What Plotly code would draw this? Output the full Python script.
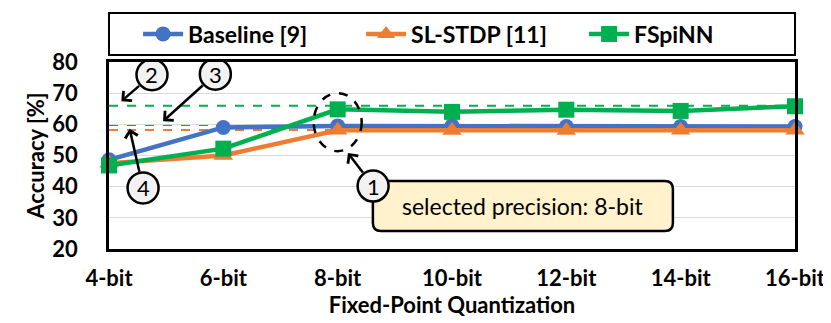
import plotly.graph_objects as go

# Data
bits = ['4-bit', '6-bit', '8-bit', '10-bit', '12-bit', '14-bit', '16-bit']
baseline = [48.6, 59.0, 59.5, 59.5, 59.3, 59.3, 59.3]
sl_stdp = [47.5, 50.0, 58.1, 58.0, 58.0, 58.1, 58.1]
fspinn = [46.8, 52.2, 64.8, 64.0, 64.7, 64.3, 65.8]
# reference levels shown as dashed lines (baseline, SL-STDP, FSpiNN)
ref_levels = [59.8, 58.2, 66.0]

names = ['Baseline [9]', 'SL-STDP [11]', 'FSpiNN']
colors = ['#4472C4', '#ED7D31', '#00B050']
symbols = ['circle', 'triangle-up', 'square']
sizes = [15, 17, 16]

FONT = 'Lato'

fig = go.Figure()

for name, ys, c, s, sz in zip(names, [baseline, sl_stdp, fspinn], colors, symbols, sizes):
    fig.add_trace(go.Scatter(
        x=bits, y=ys, name=name, mode='lines+markers',
        line=dict(color=c, width=4.5),
        marker=dict(symbol=s, size=sz, color=c),
        cliponaxis=False,
    ))

# dashed reference lines across the plot
for lvl, c in zip(ref_levels, colors):
    fig.add_shape(type='line', xref='paper', yref='y', x0=0, x1=1, y0=lvl, y1=lvl,
                  line=dict(color=c, width=2, dash='dash'), layer='below')

# dashed ellipse around the selected 8-bit points
fig.add_shape(type='circle', xref='x', yref='y', xsizemode='pixel', ysizemode='pixel',
              xanchor=2, yanchor=60.7, x0=-24, x1=24, y0=-29, y1=29,
              line=dict(color='black', width=2.5, dash='dash'))

# callout box
fig.add_shape(type='path', xref='x', yref='y', xsizemode='pixel', ysizemode='pixel',
              xanchor=3.62, yanchor=33.8,
              path='M -142,-25 L 142,-25 Q 150,-25 150,-17 L 150,17 Q 150,25 142,25 '
                   'L -142,25 Q -150,25 -150,17 L -150,-17 Q -150,-25 -142,-25 Z',
              fillcolor='#FFF2CC', line=dict(color='black', width=2.5))
fig.add_annotation(x=3.62, y=33.8, xref='x', yref='y', text='selected precision: 8-bit',
                   showarrow=False, font=dict(family=FONT, size=23, color='black'))

# numbered markers: (label, circle x, circle y, arrow tip x, arrow tip y)
callouts = [
    ('1', 2.31, 40.2, 2.09, 50.8),
    ('2', 0.376, 75.9, 0.108, 67.4),
    ('3', 0.93, 76.1, 0.473, 61.0),
    ('4', 0.298, 39.6, 0.18, 58.6),
]
for lab, cx, cy, tx, ty in callouts:
    fig.add_annotation(x=tx, y=ty, xref='x', yref='y', ax=cx, ay=cy, axref='x', ayref='y',
                       text='', showarrow=True, arrowhead=4, arrowsize=1, arrowwidth=2.5,
                       arrowcolor='black', startstandoff=15)
    fig.add_shape(type='circle', xref='x', yref='y', xsizemode='pixel', ysizemode='pixel',
                  xanchor=cx, yanchor=cy, x0=-15.5, x1=15.5, y0=-15.5, y1=15.5,
                  fillcolor='#F2F2F2', line=dict(color='black', width=2.5))
    fig.add_annotation(x=cx, y=cy, xref='x', yref='y', text=lab, showarrow=False,
                       font=dict(family=FONT, size=22, color='black'))

# legend frame
fig.add_shape(type='rect', xref='paper', yref='paper', x0=0, x1=1, y0=1.037, y1=1.262,
              line=dict(color='black', width=2), fillcolor='rgba(0,0,0,0)')

fig.update_layout(
    width=831, height=323,
    margin=dict(l=101, r=44, t=54, b=82, autoexpand=False),
    paper_bgcolor='white', plot_bgcolor='white',
    font=dict(family=FONT, size=22, color='black'),
    showlegend=True,
    legend=dict(orientation='h', x=0.53, xanchor='center', y=1.15, yanchor='middle',
                font=dict(family=FONT, size=23, color='black', weight='bold'),
                bgcolor='rgba(0,0,0,0)', entrywidth=168, itemwidth=40),
)

fig.update_xaxes(
    type='category', range=[0, 6],
    showline=True, linecolor='black', linewidth=2.5, mirror=True,
    showgrid=False, ticks='', ticklabelstandoff=8,
    tickfont=dict(family=FONT, size=22, weight='bold'),
    title=dict(text='Fixed-Point Quantization', standoff=7,
               font=dict(family=FONT, size=22, weight='bold')),
)
fig.update_yaxes(
    range=[20, 80], dtick=10,
    showline=True, linecolor='black', linewidth=2.5, mirror=True,
    showgrid=True, gridcolor='#D9D9D9', gridwidth=1, zeroline=False,
    ticks='', ticklabelstandoff=24,
    tickfont=dict(family=FONT, size=22, weight='bold'),
    title=dict(text='Accuracy [%]', standoff=2,
               font=dict(family=FONT, size=22, weight='bold')),
)

fig.write_html('out.html')
